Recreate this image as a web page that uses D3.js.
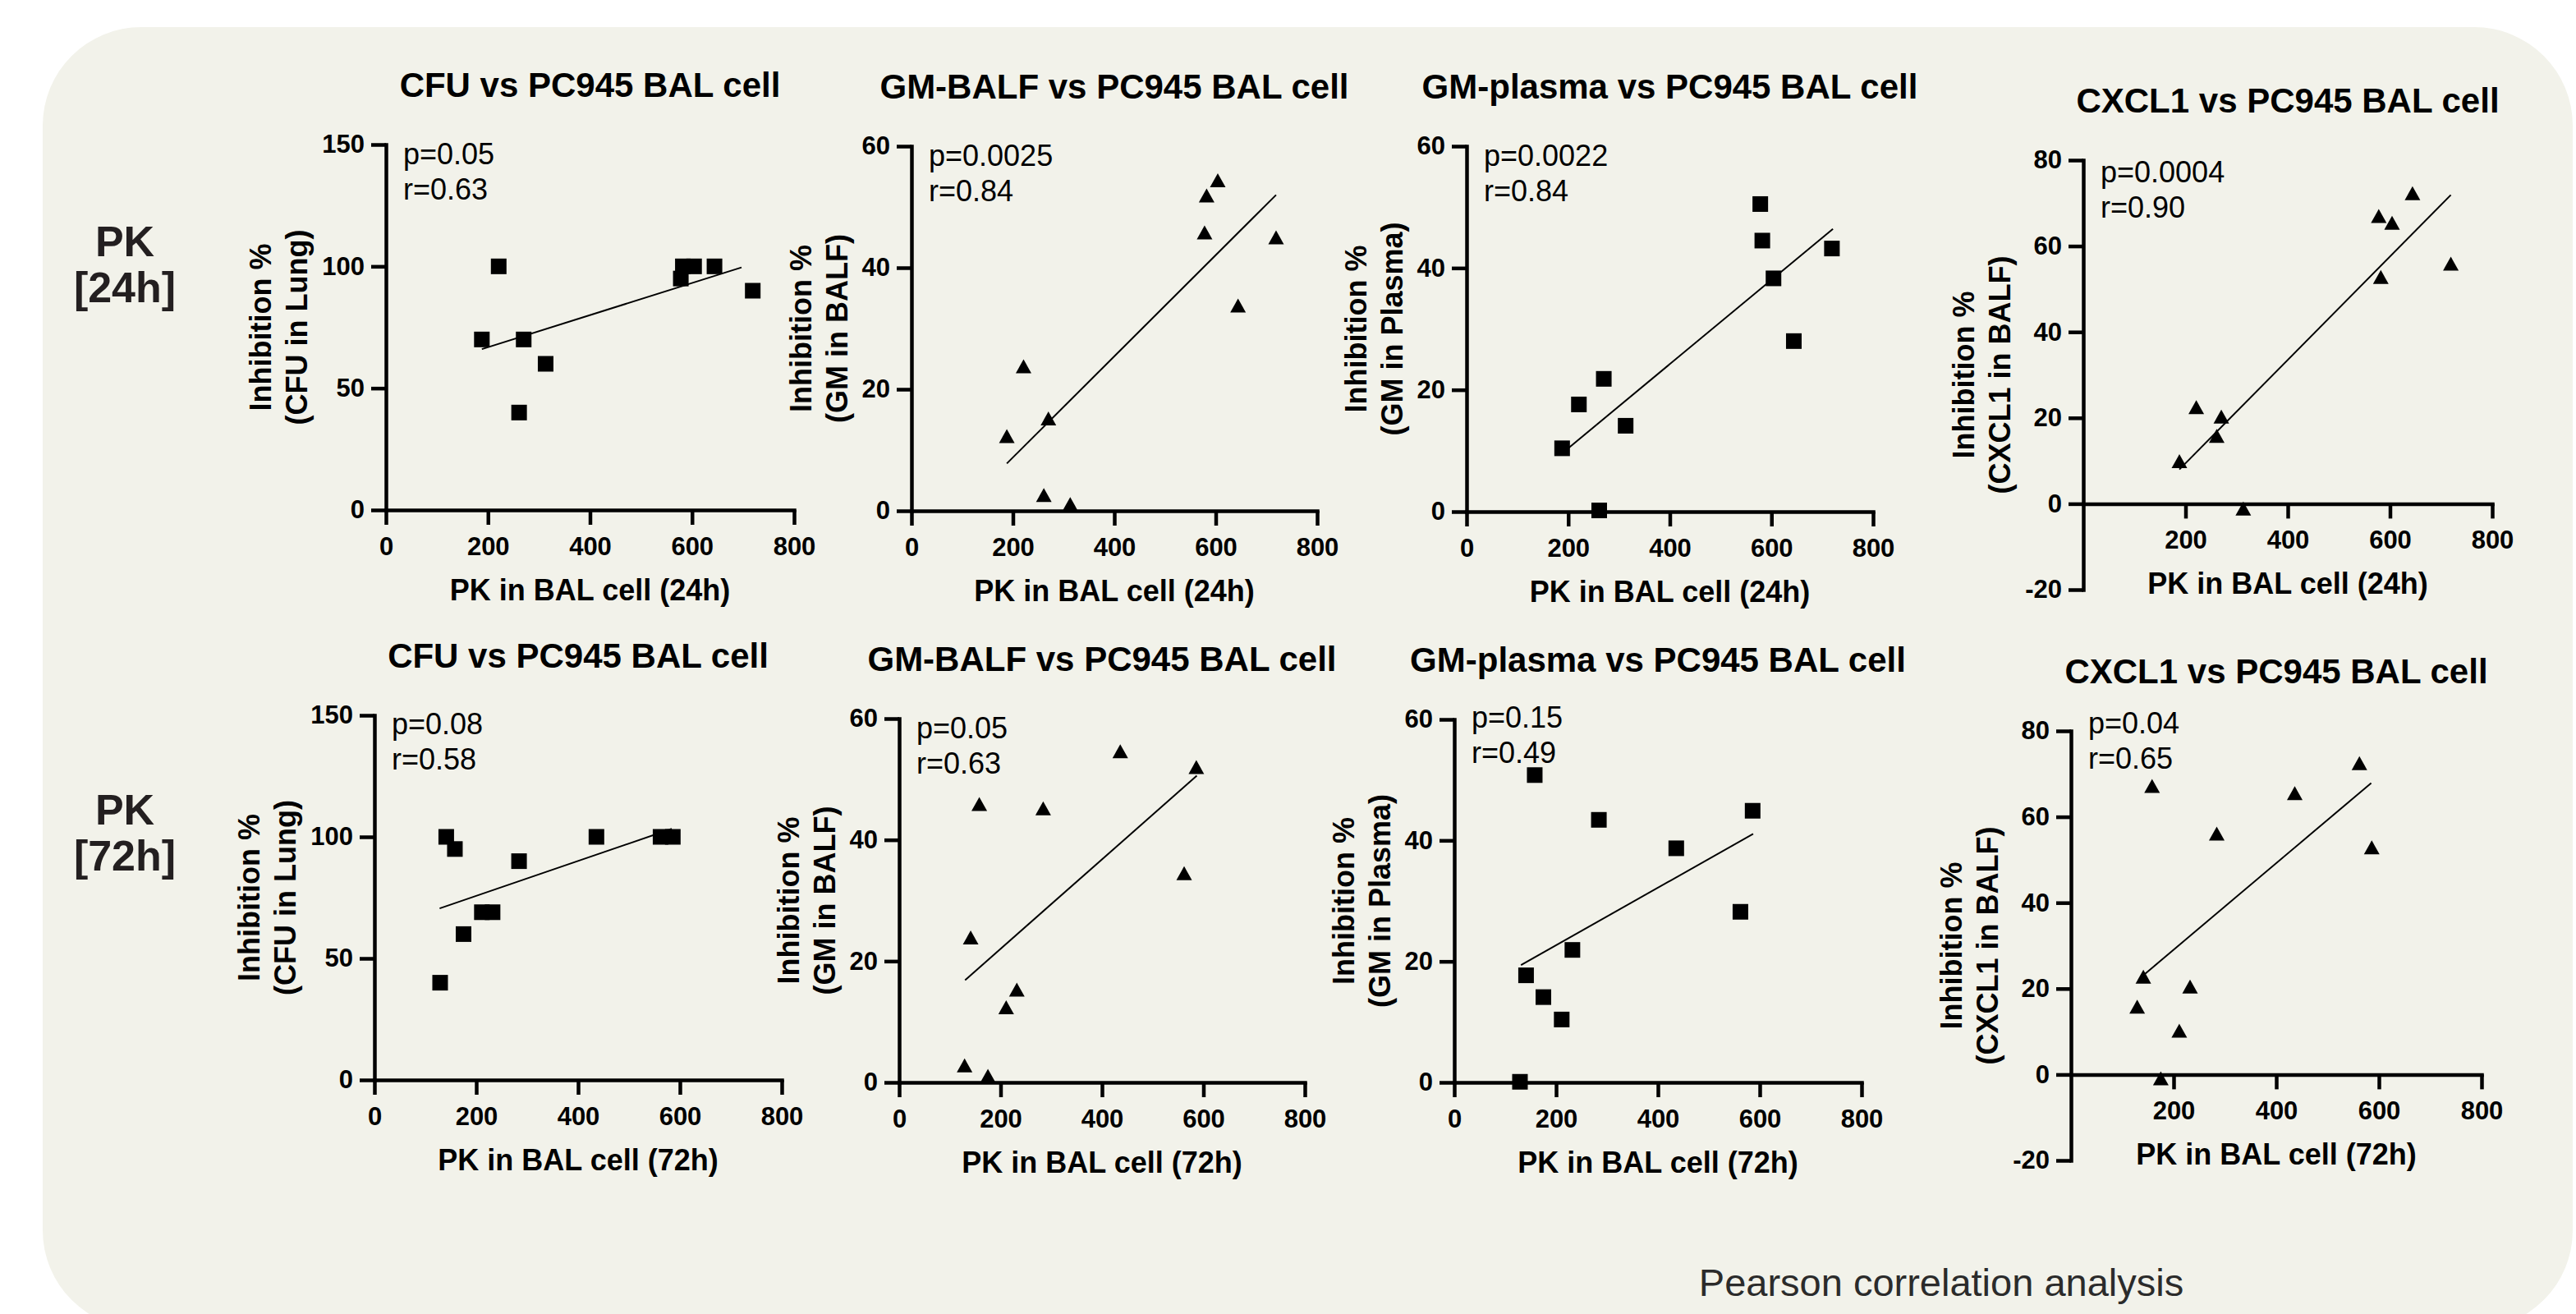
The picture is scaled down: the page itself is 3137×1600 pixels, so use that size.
<!DOCTYPE html>
<html lang="en">
<head>
<meta charset="UTF-8" />
<title>PC945 BAL cell - Pearson correlation</title>
<script src="https://d3js.org/d3.v7.min.js"></script>
<style>
    body { margin: 0; background: #ffffff; }
    svg text { font-family: "Liberation Sans", Arial, sans-serif; }
</style>
</head>
<body>
<script>
    var w = 3137;
    var h = 1600;

    // PK in BAL cell (x values), one per animal
    var pk24 = [188, 221, 261, 270, 313, 578, 582, 604, 644, 719];
    var pk72 = [129, 141, 158, 175, 211, 232, 284, 436, 562, 586];

    // Inhibition % (y values), same order as the PK arrays
    var cfu24 = [70, 100, 40, 70, 60, 95, 100, 100, 100, 90];
    var gmBalf24 = [12.3, 23.8, 2.6, 15.2, 1.1, 45.8, 51.9, 54.4, 33.8, 45];
    var gmPlasma24 = [10.4, 17.6, 0.2, 21.8, 14.1, 50.5, 44.5, 38.3, 28, 43.2];
    var cxcl1_24 = [9.9, 22.5, 15.8, 20.3, -1.1, 67, 52.8, 65.4, 72.3, 55.9];

    var cfu72 = [40, 100, 95, 60, 69, 69, 90, 100, 100, 100];
    var gmBalf72 = [2.8, 23.9, 45.9, 1.1, 12.4, 15.3, 45.2, 54.6, 34.5, 52];
    var gmPlasma72 = [0.1, 17.7, 50.8, 14.1, 10.4, 21.9, 43.4, 38.7, 28.2, 44.9];
    var cxcl1_72 = [15.8, 22.8, 67.2, -0.9, 10.2, 20.5, 56.1, 65.5, 72.5, 52.9];

    // texts
    var titles = ["CFU vs PC945 BAL cell", "GM-BALF vs PC945 BAL cell", "GM-plasma vs PC945 BAL cell", "CXCL1 vs PC945 BAL cell"];
    var yTitles = ["(CFU in Lung)", "(GM in BALF)", "(GM in Plasma)", "(CXCL1 in BALF)"];
    var xTitles = ["PK in BAL cell (24h)", "PK in BAL cell (72h)"];
    var rowLabels = ["[24h]", "[72h]"];
    var pTexts = ["p=0.05", "p=0.0025", "p=0.0022", "p=0.0004", "p=0.08", "p=0.05", "p=0.15", "p=0.04"];
    var rTexts = ["r=0.63", "r=0.84", "r=0.84", "r=0.90", "r=0.58", "r=0.63", "r=0.49", "r=0.65"];

    // ticks
    var xTicks = [0, 200, 400, 600, 800];
    var xTicksNeg = [200, 400, 600, 800];
    var yTicksCfu = [0, 50, 100, 150];
    var yTicksGm = [0, 20, 40, 60];
    var yTicksCxcl = [-20, 0, 20, 40, 60, 80];

    // x range covered by each regression line
    var fitFrom = [188, 188, 188, 188, 128, 130, 131, 143];
    var fitTo = [697, 719, 721, 719, 584, 587, 587, 585];

    var columns = [
        {ys: [cfu24, cfu72], ticks: yTicksCfu, xt: xTicks, shape: "square"},
        {ys: [gmBalf24, gmBalf72], ticks: yTicksGm, xt: xTicks, shape: "triangle"},
        {ys: [gmPlasma24, gmPlasma72], ticks: yTicksGm, xt: xTicks, shape: "square"},
        {ys: [cxcl1_24, cxcl1_72], ticks: yTicksCxcl, xt: xTicksNeg, shape: "triangle"}
    ];

    // plot boxes (pixels)
    var boxes = [
        {x0: 470, x1: 967, y0: 176, y1: 621},
        {x0: 1110, x1: 1604, y0: 178, y1: 622},
        {x0: 1786, x1: 2281, y0: 178, y1: 623},
        {x0: 2537, x1: 3035, y0: 195, y1: 718},
        {x0: 456, x1: 952, y0: 871, y1: 1315},
        {x0: 1095, x1: 1589, y0: 875, y1: 1318},
        {x0: 1771, x1: 2267, y0: 876, y1: 1318},
        {x0: 2522, x1: 3022, y0: 890, y1: 1413}
    ];
    var statDy = [24, 24, 24, 27, 23, 24, 10, 3];

    var svg = d3.select("body")
        .append("svg")
        .attr("width", w)
        .attr("height", h);

    // rounded background panel
    svg.append("rect")
        .attr("x", 52)
        .attr("y", 33)
        .attr("width", 3081)
        .attr("height", 1585)
        .attr("rx", 120)
        .attr("fill", "#f2f2ea");

    // row labels
    rowLabels.forEach(function(lab, r) {
        var t = svg.append("text")
            .attr("text-anchor", "middle")
            .attr("font-weight", "bold")
            .attr("font-size", 52)
            .attr("fill", "#231f20");
        t.append("tspan").attr("x", 152).attr("y", 312 + r * 692).text("PK");
        t.append("tspan").attr("x", 152).attr("y", 368 + r * 692).text(lab);
    });

    function drawPanel(i) {
        var row = Math.floor(i / 4);
        var col = columns[i % 4];
        var xs = row === 0 ? pk24 : pk72;
        var ys = col.ys[row];
        var b = boxes[i];
        var g = svg.append("g");

        var xScale = d3.scaleLinear().domain([0, 800]).range([b.x0, b.x1]);
        var yScale = d3.scaleLinear()
            .domain([d3.min(col.ticks), d3.max(col.ticks)])
            .range([b.y1, b.y0]);

        // plain hyphen for negatives, like the original
        var fmt = function(d) { return String(d); };

        // x axis sits at y = 0
        var xAxis = g.append("g")
            .attr("transform", "translate(0," + yScale(0) + ")")
            .call(d3.axisBottom(xScale).tickValues(col.xt).tickSize(18).tickSizeOuter(0).tickPadding(15).tickFormat(fmt));

        var yAxis = g.append("g")
            .attr("transform", "translate(" + b.x0 + ",0)")
            .call(d3.axisLeft(yScale).tickValues(col.ticks).tickSize(18).tickSizeOuter(0).tickPadding(8).tickFormat(fmt));

        [xAxis, yAxis].forEach(function(a) {
            a.select(".domain").attr("stroke", "#000").attr("stroke-width", 4.5).attr("stroke-linecap", "square");
            a.selectAll(".tick line").attr("stroke", "#000").attr("stroke-width", 4.5);
            a.selectAll(".tick text")
                .attr("fill", "#000")
                .attr("font-size", 31)
                .attr("font-weight", "bold")
                .attr("font-family", "'Liberation Sans', Arial, sans-serif");
        });

        // title
        g.append("text")
            .attr("x", (b.x0 + b.x1) / 2)
            .attr("y", b.y0 - 58)
            .attr("text-anchor", "middle")
            .attr("font-size", 42)
            .attr("font-weight", "bold")
            .text(titles[i % 4]);

        // x axis title
        g.append("text")
            .attr("x", (b.x0 + b.x1) / 2)
            .attr("y", yScale(0) + 110)
            .attr("text-anchor", "middle")
            .attr("font-size", 36)
            .attr("font-weight", "bold")
            .text(xTitles[row]);

        // y axis title, placed left of the tick labels
        var labelLeft = b.x0;
        yAxis.selectAll(".tick text").each(function() {
            var bb = this.getBBox();
            labelLeft = Math.min(labelLeft, b.x0 + bb.x);
        });
        var cy = (b.y0 + b.y1) / 2;
        [["Inhibition %", labelLeft - 62], [yTitles[i % 4], labelLeft - 18]].forEach(function(l) {
            g.append("text")
                .attr("transform", "translate(" + l[1] + "," + cy + ") rotate(-90)")
                .attr("text-anchor", "middle")
                .attr("font-size", 36)
                .attr("font-weight", "bold")
                .text(l[0]);
        });

        // p and r
        g.append("text")
            .attr("x", b.x0 + 21)
            .attr("y", b.y0 + statDy[i])
            .attr("font-size", 36)
            .text(pTexts[i]);
        g.append("text")
            .attr("x", b.x0 + 21)
            .attr("y", b.y0 + statDy[i] + 43)
            .attr("font-size", 36)
            .text(rTexts[i]);

        // least squares line
        var mx = d3.mean(xs), my = d3.mean(ys);
        var sxy = d3.sum(xs, function(d, k) { return (d - mx) * (ys[k] - my); });
        var sxx = d3.sum(xs, function(d) { return (d - mx) * (d - mx); });
        var slope = sxy / sxx;
        var icpt = my - slope * mx;
        g.append("line")
            .attr("x1", xScale(fitFrom[i]))
            .attr("y1", yScale(icpt + slope * fitFrom[i]))
            .attr("x2", xScale(fitTo[i]))
            .attr("y2", yScale(icpt + slope * fitTo[i]))
            .attr("stroke", "#000")
            .attr("stroke-width", 2);

        // points
        var pts = xs.map(function(d, k) { return [d, ys[k]]; });
        if (col.shape === "square") {
            g.selectAll("rect.pt")
                .data(pts)
                .enter()
                .append("rect")
                .attr("class", "pt")
                .attr("x", function(d) { return xScale(d[0]) - 9.5; })
                .attr("y", function(d) { return yScale(d[1]) - 9.5; })
                .attr("width", 19)
                .attr("height", 19)
                .attr("fill", "#000");
        } else {
            g.selectAll("path.pt")
                .data(pts)
                .enter()
                .append("path")
                .attr("class", "pt")
                .attr("d", "M0,-8.5L9.5,8.5L-9.5,8.5Z")
                .attr("transform", function(d) { return "translate(" + xScale(d[0]) + "," + yScale(d[1]) + ")"; })
                .attr("fill", "#000");
        }
    }

    for (var i = 0; i < 8; i++) {
        drawPanel(i);
    }

    // footnote
    svg.append("text")
        .attr("x", 2364)
        .attr("y", 1578)
        .attr("text-anchor", "middle")
        .attr("font-size", 47)
        .attr("fill", "#2b2b2b")
        .text("Pearson correlation analysis");
</script>
</body>
</html>
